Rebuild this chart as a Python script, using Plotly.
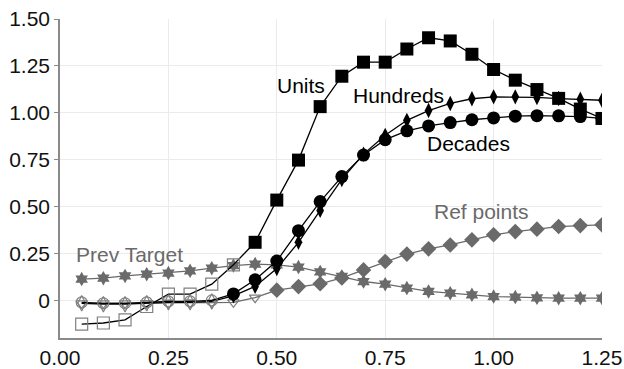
import plotly.graph_objects as go

x = [0.05, 0.10, 0.15, 0.20, 0.25, 0.30, 0.35, 0.40, 0.45, 0.50, 0.55, 0.60, 0.65,
     0.70, 0.75, 0.80, 0.85, 0.90, 0.95, 1.00, 1.05, 1.10, 1.15, 1.20, 1.25]

units = [-0.126, -0.120, -0.103, -0.032, 0.034, 0.034, 0.087, 0.190, 0.310, 0.535, 0.748, 1.033,
         1.195, 1.270, 1.270, 1.340, 1.400, 1.383, 1.312, 1.231, 1.174, 1.124, 1.077, 1.020, 0.970]
decades = [-0.010, -0.015, -0.015, -0.010, -0.005, -0.005, 0.000, 0.035, 0.110, 0.210, 0.372, 0.527,
           0.660, 0.775, 0.857, 0.904, 0.930, 0.948, 0.963, 0.973, 0.982, 0.985, 0.984, 0.980, 0.970]
hundreds = [-0.015, -0.020, -0.020, -0.015, -0.010, -0.010, -0.005, 0.025, 0.075, 0.170, 0.310, 0.480,
            0.645, 0.780, 0.880, 0.960, 1.012, 1.050, 1.075, 1.085, 1.085, 1.082, 1.076, 1.072, 1.067]
ref_points = [-0.015, -0.015, -0.015, -0.015, -0.015, -0.012, -0.012, -0.010, 0.015, 0.055, 0.074, 0.089,
              0.120, 0.163, 0.208, 0.247, 0.275, 0.296, 0.323, 0.350, 0.367, 0.380, 0.394, 0.399, 0.403]
prev_target = [0.114, 0.119, 0.131, 0.140, 0.146, 0.158, 0.172, 0.186, 0.194, 0.190, 0.178, 0.152, 0.128,
               0.101, 0.087, 0.066, 0.048, 0.039, 0.030, 0.021, 0.018, 0.014, 0.012, 0.012, 0.012]

# first x at which markers become filled
units_fill_from = 0.45
decades_fill_from = 0.40
hundreds_fill_from = 0.40
ref_fill_from = 0.50

x_ticks = [0.00, 0.25, 0.50, 0.75, 1.00, 1.25]
x_tick_labels = ["0.00", "0.25", "0.50", "0.75", "1.00", "1.25"]
y_ticks = [0, 0.25, 0.50, 0.75, 1.00, 1.25, 1.50]
y_tick_labels = ["0", "0.25", "0.50", "0.75", "1.00", "1.25", "1.50"]

BLACK = "#000000"
GREY = "#6a6a6a"
OPEN = "#808080"
FONT = "Liberation Sans, Arial, sans-serif"

fig = go.Figure()


def add_series(vals, line_color, open_sym, fill_sym, fill_color, open_size, fill_size, fill_from):
    fig.add_trace(go.Scatter(x=x, y=vals, mode="lines",
                             line=dict(color=line_color, width=1.3),
                             showlegend=False, hoverinfo="skip"))
    xo = [a for a in x if a < fill_from - 1e-9]
    yo = [v for a, v in zip(x, vals) if a < fill_from - 1e-9]
    xf = [a for a in x if a >= fill_from - 1e-9]
    yf = [v for a, v in zip(x, vals) if a >= fill_from - 1e-9]
    if xo:
        fig.add_trace(go.Scatter(x=xo, y=yo, mode="markers",
                                 marker=dict(symbol=open_sym, size=open_size, color=OPEN,
                                             line=dict(color=OPEN, width=1.2)),
                                 showlegend=False))
    fig.add_trace(go.Scatter(x=xf, y=yf, mode="markers",
                             marker=dict(symbol=fill_sym, size=fill_size, color=fill_color,
                                         line=dict(width=0)),
                             showlegend=False))


add_series(ref_points, GREY, "triangle-down-open", "diamond", GREY, 10, 12, ref_fill_from)
add_series(prev_target, GREY, "hexagram", "hexagram", GREY, 11, 11, 0.0)
add_series(units, BLACK, "square-open", "square", BLACK, 12, 13, units_fill_from)
add_series(hundreds, BLACK, "diamond-tall-open", "diamond-tall", BLACK, 11, 11, hundreds_fill_from)
add_series(decades, BLACK, "circle-open", "circle", BLACK, 11, 13, decades_fill_from)

labels = [
    ("Units", 0.556, 1.147, BLACK),
    ("Hundreds", 0.780, 1.091, BLACK),
    ("Decades", 0.943, 0.837, BLACK),
    ("Prev Target", 0.161, 0.246, GREY),
    ("Ref points", 0.971, 0.473, GREY),
]
for text, ax_, ay_, col in labels:
    fig.add_annotation(x=ax_, y=ay_, text=text, showarrow=False,
                       font=dict(size=21, color=col, family=FONT),
                       xanchor="center", yanchor="middle")

fig.update_layout(
    width=624, height=369,
    margin=dict(l=60, r=22, t=19, b=31),
    paper_bgcolor="white", plot_bgcolor="white",
    font=dict(family=FONT, size=21, color="#111111"),
    showlegend=False,
)
fig.update_xaxes(range=[0, 1.25], tickvals=x_ticks, ticktext=x_tick_labels,
                 showgrid=True, gridcolor="#ebebeb", gridwidth=1,
                 showline=True, linecolor="#8a8a8a", linewidth=1.5,
                 ticks="", automargin=False,
                 zeroline=False, tickfont=dict(size=21))
fig.update_yaxes(range=[-0.2, 1.5], tickvals=y_ticks, ticktext=y_tick_labels,
                 showgrid=True, gridcolor="#ebebeb", gridwidth=1,
                 showline=True, linecolor="#8a8a8a", linewidth=1.5,
                 ticks="outside", ticklen=4, tickcolor="#8a8a8a",
                 automargin=False,
                 zeroline=False, tickfont=dict(size=21))

fig.write_html("out.html")
